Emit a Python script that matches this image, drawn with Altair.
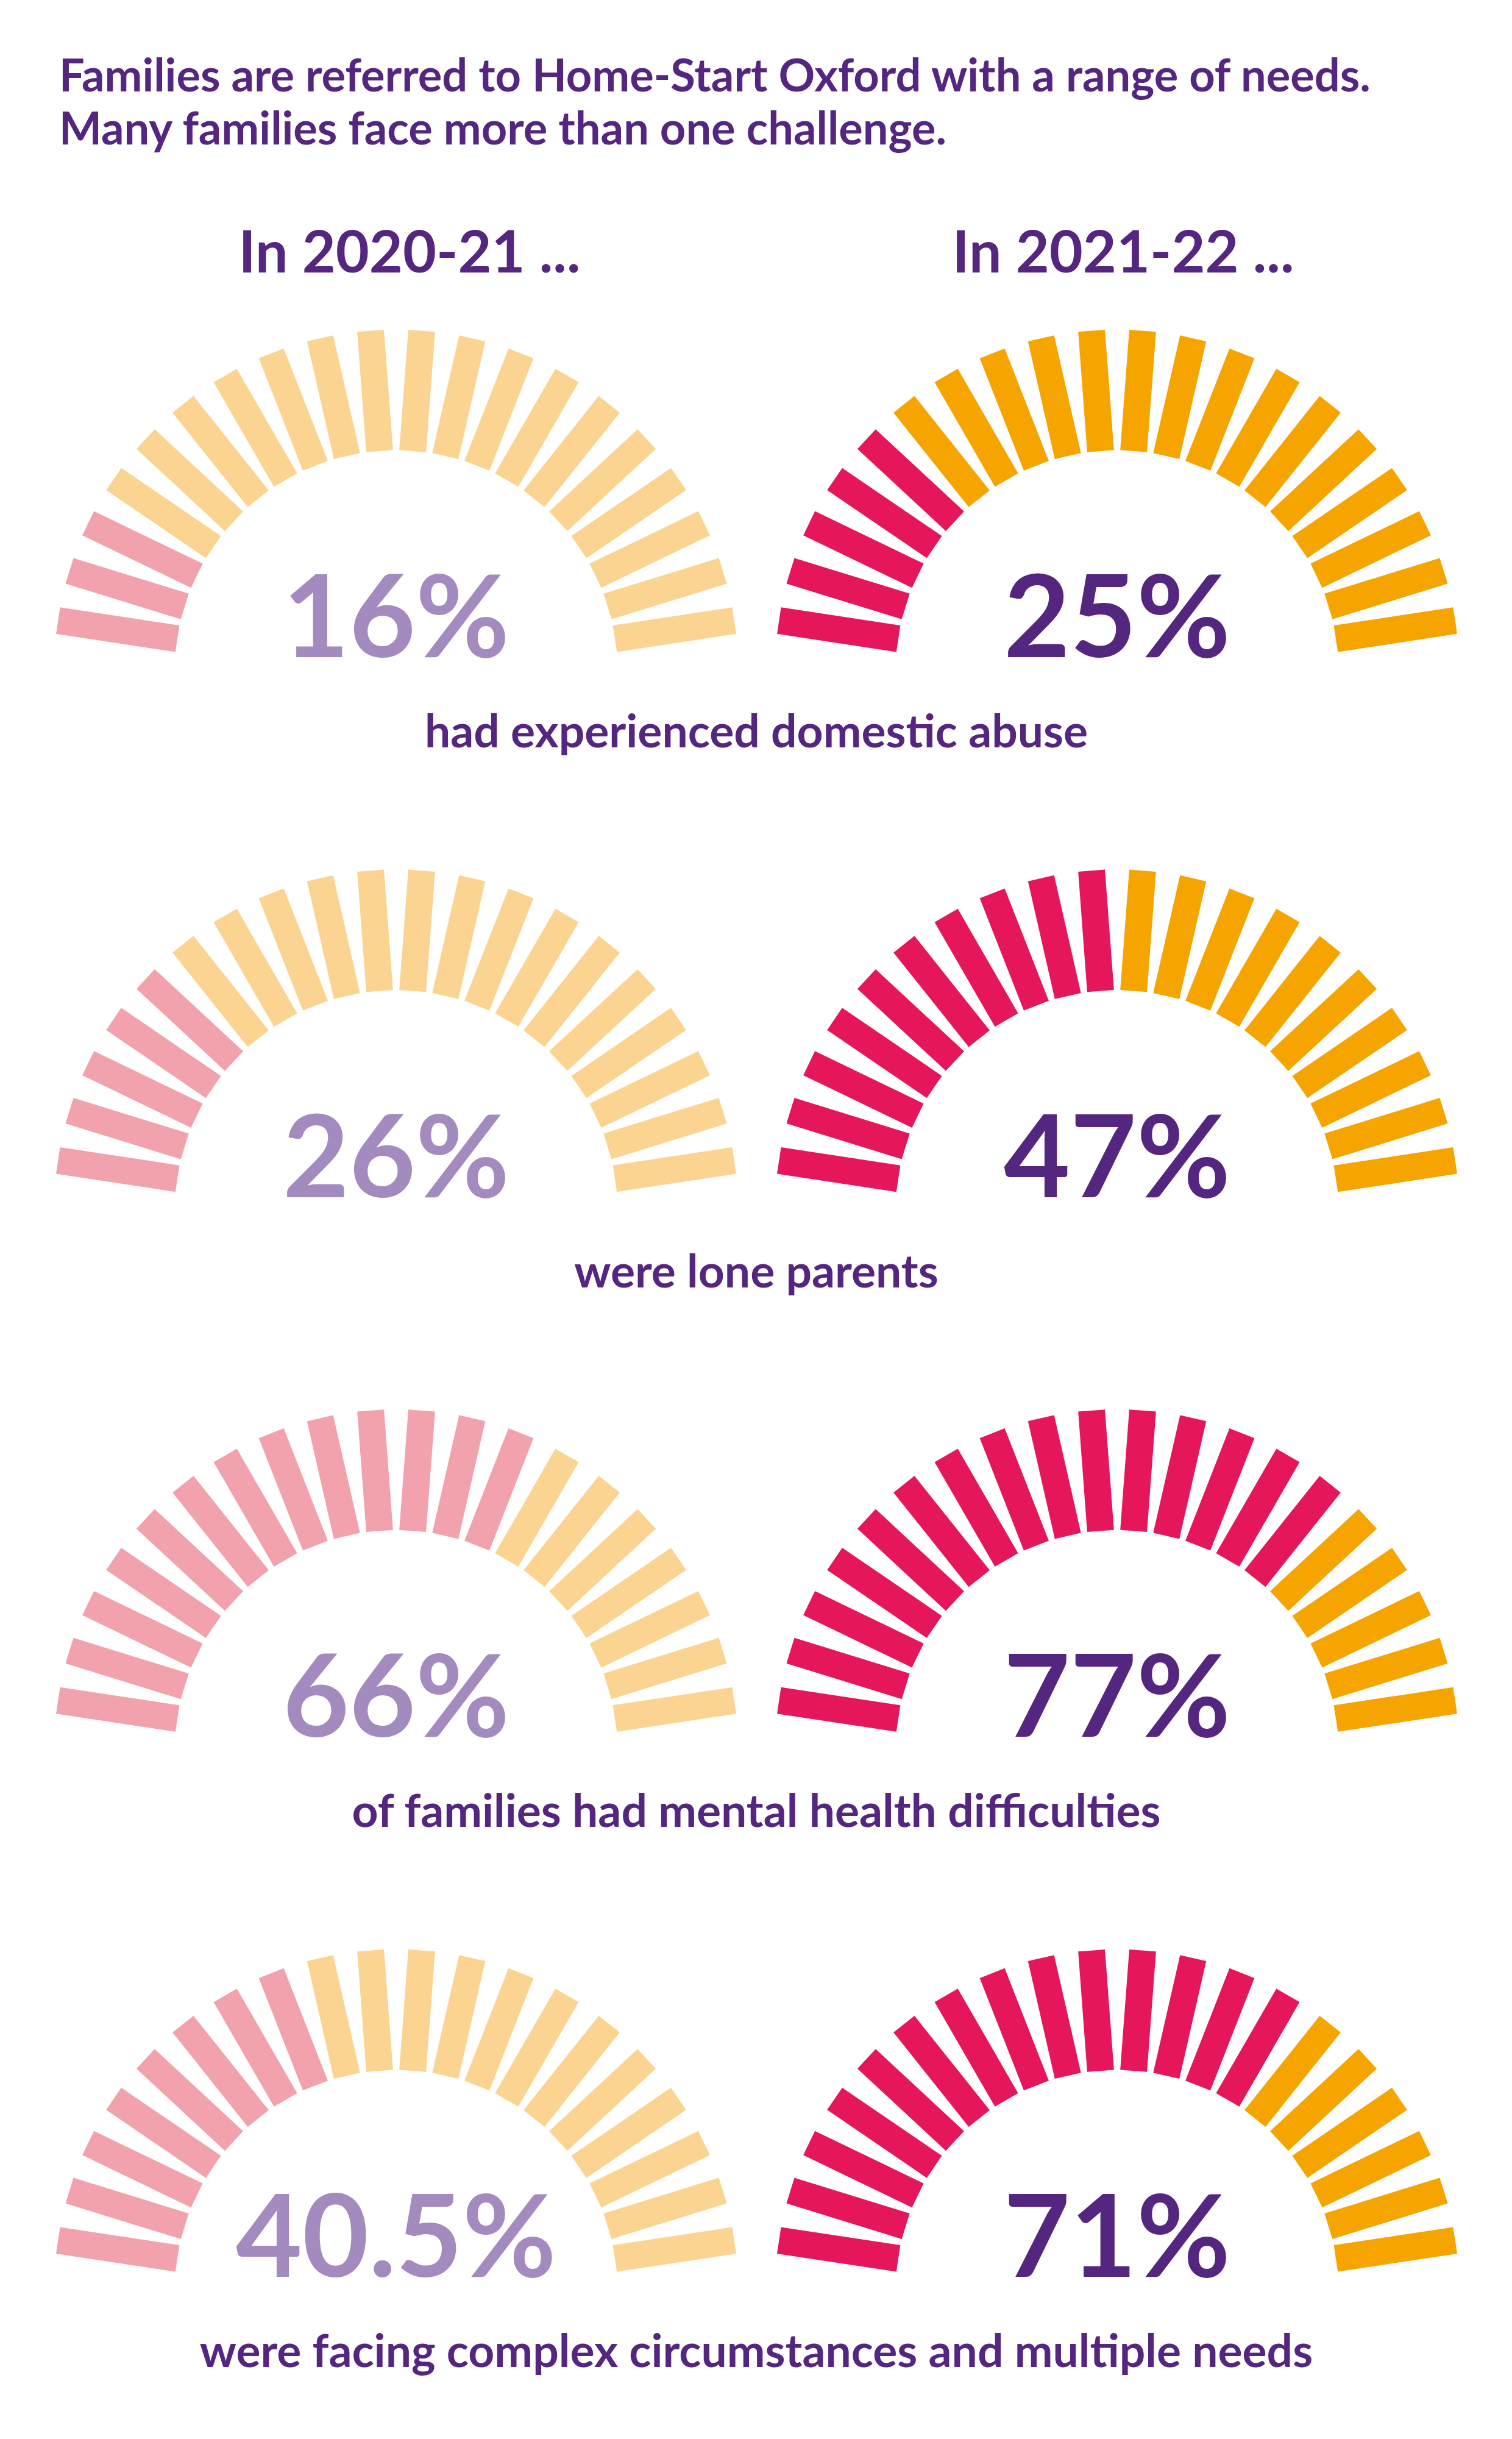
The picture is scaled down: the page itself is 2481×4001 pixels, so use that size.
import altair as alt
import pandas as pd

# ---- content -------------------------------------------------------------
title_lines = [
    "Families are referred to Home-Start Oxford with a range of needs.",
    "Many families face more than one challenge.",
]
periods = ["In 2020-21 ...", "In 2021-22 ..."]
needs = [
    "had experienced domestic abuse",
    "were lone parents",
    "of families had mental health difficulties",
    "were facing complex circumstances and multiple needs",
]
share_2020_21 = [16, 26, 66, 40.5]
share_2021_22 = [25, 47, 77, 71]
# number of highlighted gauge segments (out of 20) for each value
lit_2020_21 = [3, 5, 13, 8]
lit_2021_22 = [5, 10, 15, 14]
SEGMENTS = 20

# ---- layout (pixels) -----------------------------------------------------
W, H = 2481, 4001
CX = [650, 1833]          # gauge centres, per period column
CY0, ROW_STEP = 1102, 885.7
R_IN, R_OUT = 363, 561
START_DEG, SPAN_DEG = -81.4, 162.8
STEP_DEG = SPAN_DEG / (SEGMENTS - 1)

PURPLE = "#55267F"
LIGHT_PURPLE = "#A48BBF"

xs = alt.Scale(domain=[0, W], nice=False, zero=False)
ys = alt.Scale(domain=[0, H], reverse=True, nice=False, zero=False)

# ---- gauge segments --------------------------------------------------------
seg_rows = []
for r in range(len(needs)):
    for c, lit in enumerate([lit_2020_21, lit_2021_22]):
        for s in range(SEGMENTS):
            seg_rows.append({
                "row": r, "col": c, "seg": s,
                "state": f"{periods[c]} {'on' if s < lit[r] else 'off'}",
            })
segments = pd.DataFrame(seg_rows)

state_domain = [f"{periods[0]} on", f"{periods[0]} off",
                f"{periods[1]} on", f"{periods[1]} off"]
state_colors = ["#F2A2AC", "#FBD492", "#E5175A", "#F6A500"]

gauges = (
    alt.Chart(segments)
    .transform_calculate(
        cx=f"datum.col == 0 ? {CX[0]} : {CX[1]}",
        cy=f"{CY0} + datum.row * {ROW_STEP}",
        ang=f"({START_DEG} + datum.seg * {STEP_DEG}) * PI / 180",
    )
    .transform_calculate(
        x_in=f"datum.cx + {R_IN} * sin(datum.ang)",
        y_in=f"datum.cy - {R_IN} * cos(datum.ang)",
        x_out=f"datum.cx + {R_OUT} * sin(datum.ang)",
        y_out=f"datum.cy - {R_OUT} * cos(datum.ang)",
    )
    .mark_rule(strokeWidth=44, strokeCap="butt")
    .encode(
        x=alt.X("x_in:Q", scale=xs, axis=None),
        y=alt.Y("y_in:Q", scale=ys, axis=None),
        x2="x_out:Q",
        y2="y_out:Q",
        color=alt.Color("state:N", scale=alt.Scale(domain=state_domain, range=state_colors), legend=None),
    )
)

# ---- percentage labels ---------------------------------------------------
pct_rows = []
for r in range(len(needs)):
    for c, vals in enumerate([share_2020_21, share_2021_22]):
        pct_rows.append({"row": r, "col": c, "period": periods[c], "label": f"{vals[r]:g}%"})
pcts = pd.DataFrame(pct_rows)

pct_text = (
    alt.Chart(pcts)
    .transform_calculate(
        x=f"datum.col == 0 ? {CX[0]} : {CX[1]}",
        y=f"{CY0} + datum.row * {ROW_STEP} - 24",
    )
    .mark_text(font="Lato", fontWeight="bold", fontSize=188, align="center", baseline="alphabetic")
    .encode(
        x=alt.X("x:Q", scale=xs, axis=None),
        y=alt.Y("y:Q", scale=ys, axis=None),
        text="label:N",
        color=alt.Color("period:N", scale=alt.Scale(domain=periods, range=[LIGHT_PURPLE, PURPLE]), legend=None),
    )
)

# ---- captions under each row ---------------------------------------------
caps = pd.DataFrame({"row": list(range(len(needs))), "label": needs})
cap_text = (
    alt.Chart(caps)
    .transform_calculate(x="1241", y=f"{CY0} + datum.row * {ROW_STEP} + 124")
    .mark_text(font="Lato", fontWeight="bold", fontSize=75, align="center", baseline="alphabetic", color=PURPLE)
    .encode(
        x=alt.X("x:Q", scale=xs, axis=None),
        y=alt.Y("y:Q", scale=ys, axis=None),
        text="label:N",
    )
)

# ---- column headers ------------------------------------------------------
heads = pd.DataFrame({"col": [0, 1], "label": periods})
head_text = (
    alt.Chart(heads)
    .transform_calculate(x="datum.col == 0 ? 672 : 1843", y="447")
    .mark_text(font="Lato", fontWeight="bold", fontSize=95, align="center", baseline="alphabetic", color=PURPLE)
    .encode(
        x=alt.X("x:Q", scale=xs, axis=None),
        y=alt.Y("y:Q", scale=ys, axis=None),
        text="label:N",
    )
)

# ---- title ---------------------------------------------------------------
titles = pd.DataFrame({"line": [0, 1], "label": title_lines})
title_text = (
    alt.Chart(titles)
    .transform_calculate(x="97", y="150 + datum.line * 87")
    .mark_text(font="Lato", fontWeight="bold", fontSize=74, align="left", baseline="alphabetic", color=PURPLE)
    .encode(
        x=alt.X("x:Q", scale=xs, axis=None),
        y=alt.Y("y:Q", scale=ys, axis=None),
        text="label:N",
    )
)

chart = (
    alt.layer(gauges, pct_text, cap_text, head_text, title_text)
    .resolve_scale(color="independent")
    .properties(width=W, height=H, padding=0, autosize=alt.AutoSizeParams(type="none"), background="white")
    .configure_view(stroke=None)
)

chart.save("out.html", embed_options={"renderer": "svg", "actions": False})
